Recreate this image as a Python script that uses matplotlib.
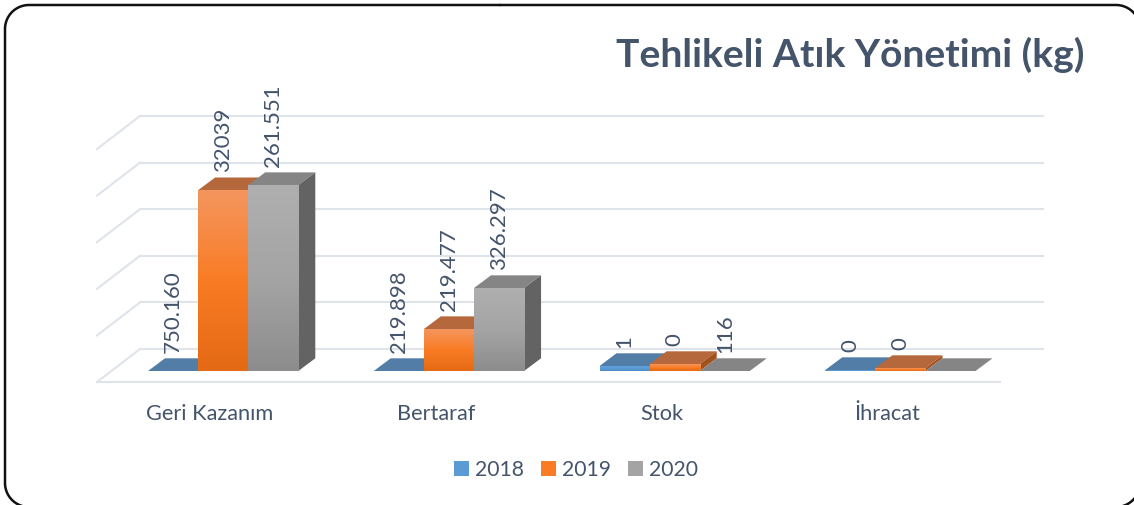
import matplotlib
matplotlib.use("Agg")
import matplotlib.pyplot as plt
import numpy as np
from matplotlib.colors import LinearSegmentedColormap
from matplotlib.lines import Line2D
from matplotlib.patches import Patch, Polygon
from matplotlib.transforms import IdentityTransform

plt.rcParams['font.family'] = ['Lato', 'DejaVu Sans']
plt.rcParams['path.simplify'] = False

categories = ["Geri Kazanım", "Bertaraf", "Stok", "İhracat"]
years = ["2018", "2019", "2020"]

# bar heights (the printed labels do not follow them)
heights_2018 = [0, 0, 10700, 2100]
heights_2019 = [388000, 90000, 15000, 6400]
heights_2020 = [399000, 178000, 0, 0]

labels_2018 = ["750.160", "219.898", "1", "0"]
labels_2019 = ["32039", "219.477", "0", "0"]
labels_2020 = ["261.551", "326.297", "116", ""]

grid_values = [0, 100000, 200000, 300000, 400000, 500000]

TEXT = "#44546A"
GRID = "#DFE3EA"
W, H = 1134, 505

# one category = 225.75 px, 100000 kg = 46.6 px, zero at y=371 px
PX_X = 1 / 225.75
PX_Y = 100000 / 46.6
DX, DY = 17 * PX_X, 12.7 * PX_Y
BAR_W = 50.1 * PX_X
BAR_START = -62 * PX_X

styles = [
    {"grad": ["#5FA2DE", "#5B9BD5", "#4E8FCB"], "top": "#527DA6", "side": "#3F6F9E"},
    {"grad": ["#F4955E", "#F97C24", "#E56A15"], "top": "#B5683C", "side": "#A4521B"},
    {"grad": ["#AFAFAF", "#A4A4A4", "#8D8D8D"], "top": "#858585", "side": "#636363"},
]

fig = plt.figure(figsize=(W / 100, H / 100), dpi=100, facecolor='white')
ax = fig.add_axes([0, 0, 1, 1])
ax.axis('off')


def face(points, color, z):
    ax.add_patch(Polygon(points, closed=True, facecolor=color, edgecolor='none', zorder=z))


def corner(cx, cy, rad, a0, a1):
    tt = np.radians(np.linspace(a0, a1, 30))
    return cx + rad * np.cos(tt), cy + rad * np.sin(tt)


# floor and grid
xl = -113 * PX_X
xr = 790 * PX_X
gdx, gdy = 43 * PX_X, 33 * PX_Y
back = 22 * PX_Y
for gv in grid_values:
    yy = back + gv
    ax.plot([xl + gdx, xr + gdx], [yy, yy], color=GRID, lw=1.5, zorder=1)
    ax.plot([xl, xl + gdx], [yy - gdy, yy], color=GRID, lw=1.5, zorder=1)
ax.plot([xl, xr], [back - gdy, back - gdy], color=GRID, lw=1.5, zorder=1)

# bars, drawn left to right so the later ones cover the earlier ones
series = [(heights_2018, labels_2018), (heights_2019, labels_2019), (heights_2020, labels_2020)]
z = 2
for cc, name in enumerate(categories):
    for ss, (vals, labs) in enumerate(series):
        st = styles[ss]
        x0 = cc + BAR_START + ss * BAR_W
        x1 = x0 + BAR_W
        hh = vals[cc]
        face([(x0, hh), (x1, hh), (x1 + DX, hh + DY), (x0 + DX, hh + DY)], st["top"], z)
        z += 1
        if hh > 0:
            face([(x1, 0), (x1 + DX, DY), (x1 + DX, hh + DY), (x1, hh)], st["side"], z)
            z += 1
            cmap = LinearSegmentedColormap.from_list("bar", st["grad"])
            ax.imshow(np.linspace(0, 1, 64).reshape(-1, 1), cmap=cmap, aspect='auto',
                      extent=[x0, x1, 0, hh], zorder=z, interpolation='bilinear')
            z += 1
        if labs[cc]:
            ax.text((x0 + x1) / 2, hh + DY + 5 * PX_Y, labs[cc], rotation=90, ha='center',
                    va='bottom', fontsize=16, color=TEXT, zorder=100)
    ax.text(cc, -43 * PX_Y, name, ha='center', va='center', fontsize=15.7, color=TEXT)

ax.set_xlim(-210 * PX_X, (W - 210) * PX_X)
ax.set_ylim(-(H - 371) * PX_Y, 371 * PX_Y)

ax.text(874 * PX_X, 316 * PX_Y, "Tehlikeli Atık Yönetimi (kg)", ha='right', va='center',
        fontsize=28.1, fontweight='bold', color=TEXT)

handles = [Patch(facecolor=st["grad"][1], edgecolor='none') for st in styles]
ax.legend(handles, years, loc='center', bbox_to_anchor=(576 / W, 1 - 470 / H), ncol=3, frameon=False,
          fontsize=15.2, labelcolor=TEXT, handlelength=0.7, handleheight=0.7, handletextpad=0.25,
          columnspacing=0.85)

# rounded frame, it runs past the right and bottom edges of the image (pixel coords, y up)
rad = 24
left, right, top, bottom = 5, 1140, H - 5, H - 507
parts = [corner(right - rad, top - rad, rad, 90, 0), corner(right - rad, bottom + rad, rad, 0, -90),
         corner(left + rad, bottom + rad, rad, 270, 180), corner(left + rad, top - rad, rad, 180, 90)]
fx = np.concatenate([[500]] + [pp[0] for pp in parts] + [[500]])
fy = np.concatenate([[top]] + [pp[1] for pp in parts] + [[top]])
frame = Line2D(fx, fy, transform=IdentityTransform(), color='#111111', lw=1.8, clip_on=False,
               solid_capstyle='round', solid_joinstyle='round')
frame.set_snap(False)
fig.add_artist(frame)

plt.savefig("out.png", dpi=100)
